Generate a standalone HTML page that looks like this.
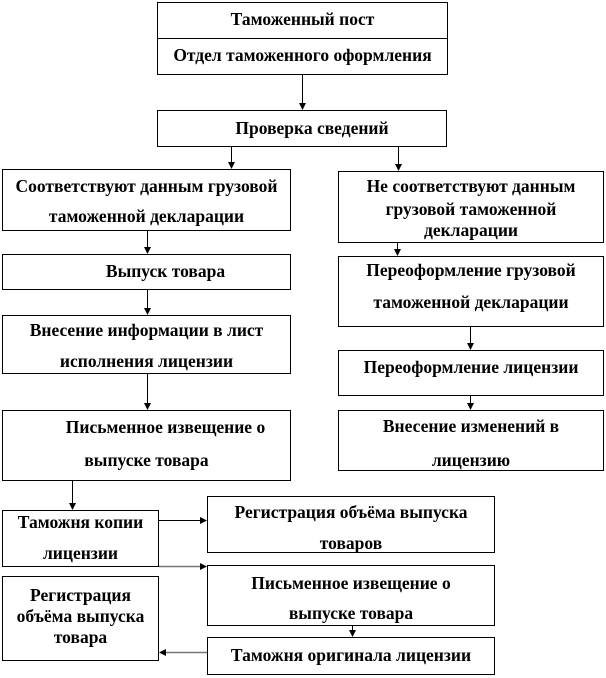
<!DOCTYPE html>
<html><head><meta charset="utf-8"><style>
html,body{margin:0;padding:0;background:#fff;width:606px;height:678px;overflow:hidden;position:relative}
.b{position:absolute;border:1px solid #000;box-sizing:border-box;background:#fff}
.t{position:absolute;font-family:"Liberation Serif","Times New Roman","DejaVu Serif",serif;font-weight:bold;font-size:17.5px;letter-spacing:0px;color:#000;white-space:nowrap;text-align:center;line-height:20px;height:20px}
svg{position:absolute;left:0;top:0}
</style></head><body>
<div class="b" style="left:157px;top:2px;width:291px;height:73px"></div>
<div class="b" style="left:157px;top:38px;width:291px;height:1px;border-width:1px 0 0 0"></div>
<div class="b" style="left:157px;top:110px;width:290px;height:37px"></div>
<div class="b" style="left:2px;top:169px;width:289px;height:62px"></div>
<div class="b" style="left:338px;top:171px;width:266px;height:72px"></div>
<div class="b" style="left:2px;top:254px;width:289px;height:36px"></div>
<div class="b" style="left:338px;top:256px;width:266px;height:71px"></div>
<div class="b" style="left:2px;top:315px;width:289px;height:59px"></div>
<div class="b" style="left:338px;top:350px;width:266px;height:46px"></div>
<div class="b" style="left:2px;top:410px;width:289px;height:71px"></div>
<div class="b" style="left:338px;top:410px;width:266px;height:61px"></div>
<div class="b" style="left:2px;top:510px;width:157px;height:57px"></div>
<div class="b" style="left:207px;top:496px;width:288px;height:57px"></div>
<div class="b" style="left:207px;top:565px;width:288px;height:61px"></div>
<div class="b" style="left:2px;top:576px;width:157px;height:85px"></div>
<div class="b" style="left:207px;top:637px;width:288px;height:38px"></div>

<svg width="606" height="678">
<g stroke="#000" stroke-width="1" fill="none">
<line x1="302.5" y1="75" x2="302.5" y2="104"/>
<line x1="231.5" y1="147" x2="231.5" y2="163"/>
<line x1="398.5" y1="147" x2="398.5" y2="165"/>
<line x1="147.5" y1="231" x2="147.5" y2="248"/>
<line x1="397.5" y1="243" x2="397.5" y2="250"/>
<line x1="147.5" y1="290" x2="147.5" y2="309"/>
<line x1="470.5" y1="327" x2="470.5" y2="344"/>
<line x1="147.5" y1="374" x2="147.5" y2="404"/>
<line x1="470.5" y1="396" x2="470.5" y2="404"/>
<line x1="72.5" y1="481" x2="72.5" y2="504"/>
<line x1="159" y1="520.5" x2="200" y2="520.5"/>
<line x1="352.5" y1="626" x2="352.5" y2="631"/>
</g>
<g stroke="#777" stroke-width="1.5" fill="none">
<line x1="159" y1="566.5" x2="200" y2="566.5"/>
<line x1="207" y1="652.5" x2="166" y2="652.5"/>
</g>
<g fill="#000">
<polygon points="299,103 306,103 302.5,110"/>
<polygon points="228,162 235,162 231.5,169"/>
<polygon points="395,164 402,164 398.5,171"/>
<polygon points="144,247 151,247 147.5,254"/>
<polygon points="394,249 401,249 397.5,256"/>
<polygon points="144,308 151,308 147.5,315"/>
<polygon points="467,343 474,343 470.5,350"/>
<polygon points="144,403 151,403 147.5,410"/>
<polygon points="467,403 474,403 470.5,410"/>
<polygon points="69,503 76,503 72.5,510"/>
<polygon points="200,517 207,520.5 200,524"/>
<polygon points="200,563 207,566.5 200,570"/>
<polygon points="349,630 356,630 352.5,637"/>
<polygon points="166,649 159,652.5 166,656"/>
</g>
</svg>

<div class="t" style="left:157px;width:291px;top:9px">Таможенный пост</div>
<div class="t" style="left:157px;width:291px;top:45px">Отдел таможенного оформления</div>
<div class="t" style="left:177px;width:270px;top:118px">Проверка сведений</div>
<div class="t" style="left:2px;width:289px;top:176px">Соответствуют данным грузовой</div>
<div class="t" style="left:2px;width:289px;top:206px">таможенной декларации</div>
<div class="t" style="left:338px;width:266px;top:176px">Не соответствуют данным</div>
<div class="t" style="left:338px;width:266px;top:199px">грузовой таможенной</div>
<div class="t" style="left:338px;width:266px;top:220px">декларации</div>
<div class="t" style="left:40px;width:251px;top:261px">Выпуск товара</div>
<div class="t" style="left:338px;width:266px;top:260px">Переоформление грузовой</div>
<div class="t" style="left:338px;width:266px;top:292px">таможенной декларации</div>
<div class="t" style="left:2px;width:289px;top:320px">Внесение информации в лист</div>
<div class="t" style="left:2px;width:289px;top:351px">исполнения лицензии</div>
<div class="t" style="left:338px;width:266px;top:357px">Переоформление лицензии</div>
<div class="t" style="left:40px;width:251px;top:417px">Письменное извещение о</div>
<div class="t" style="left:2px;width:289px;top:450px">выпуске товара</div>
<div class="t" style="left:338px;width:266px;top:416px">Внесение изменений в</div>
<div class="t" style="left:338px;width:266px;top:450px">лицензию</div>
<div class="t" style="left:2px;width:157px;top:512px">Таможня копии</div>
<div class="t" style="left:2px;width:157px;top:543px">лицензии</div>
<div class="t" style="left:207px;width:288px;top:502px">Регистрация объёма выпуска</div>
<div class="t" style="left:207px;width:288px;top:533px">товаров</div>
<div class="t" style="left:207px;width:288px;top:573px">Письменное извещение о</div>
<div class="t" style="left:207px;width:288px;top:603px">выпуске товара</div>
<div class="t" style="left:2px;width:157px;top:585px">Регистрация</div>
<div class="t" style="left:2px;width:157px;top:606px">объёма выпуска</div>
<div class="t" style="left:2px;width:157px;top:627px">товара</div>
<div class="t" style="left:207px;width:288px;top:645px">Таможня оригинала лицензии</div>
</body></html>
